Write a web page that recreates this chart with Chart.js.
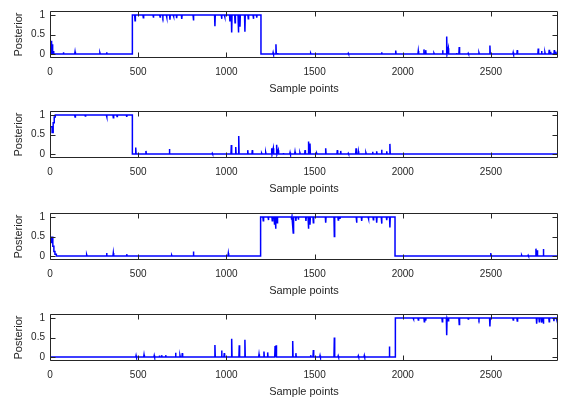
<!DOCTYPE html>
<html>
<head>
<meta charset="utf-8">
<script src="https://cdn.jsdelivr.net/npm/chart.js@4"></script>
<style>
  html, body { margin: 0; padding: 0; background: #fff; overflow: hidden; }
  body { width: 563px; height: 401px; position: relative; }
  .panel { position: absolute; left: 0; width: 563px; height: 100px; }
</style>
</head>
<body>
<div class="panel" style="top:0px"><canvas id="c1"></canvas></div>
<div class="panel" style="top:100px"><canvas id="c2"></canvas></div>
<div class="panel" style="top:202px"><canvas id="c3"></canvas></div>
<div class="panel" style="top:303px"><canvas id="c4"></canvas></div>
<script>
// ---- data ----
const X_MAX = 2880;
const xTickValues = [0, 500, 1000, 1500, 2000, 2500];
const yTickValues = [0, 0.5, 1];
const xTitle = 'Sample points';
const yTitle = 'Posterior';

// level changes: [x, level from x onward]
const p1Steps = [[0, 0], [467, 1], [1196, 0]];
const p1Spikes = [[8,0.34],[14,0.25],[20,0.08],[76,0.05],[142,0.06],[283,0.03],[321,0.05],
  [482,0.85],[529,0.93],[586,0.93],[624,0.95],[640,0.96],[661,0.94],[680,0.88],[700,0.96],[718,0.92],[747,0.9],[813,0.86],[935,0.71],[973,0.9],[990,0.95],[1020,0.83],[1030,0.55],[1049,0.8],[1068,0.55],[1077,0.7],[1105,0.57],[1124,0.9],[1153,0.9],[1172,0.93],
  [1265,0.04],[1281,0.25],[1290,0.03],[1313,0.02],[1478,0.02],[1691,0.02],[1795,0.02],[1880,0.05],[1960,0.09],[2088,0.08],[2120,0.12],[2130,0.1],[2177,0.02],[2226,0.1],[2249,0.45],[2258,0.15],[2305,0.03],[2320,0.18],[2371,0.02],[2432,0.03],[2494,0.22],[2626,0.04],[2649,0.1],[2768,0.14],[2787,0.08],[2806,0.04],[2830,0.11],[2838,0.06],[2859,0.1],[2868,0.06]];

const p2Steps = [[0, 0.7], [12, 0.55], [18, 0.8], [24, 0.95], [30, 1], [467, 0]];
const p2Spikes = [[142,0.95],[200,0.97],[321,0.95],[359,0.93],[380,0.96],[435,0.95],
  [486,0.17],[544,0.08],[677,0.13],[920,0.02],[1028,0.23],[1053,0.18],[1070,0.46],[1121,0.1],[1147,0.1],[1200,0.02],[1223,0.04],[1257,0.15],[1266,0.15],[1285,0.24],[1294,0.1],[1323,0.03],[1361,0.04],[1389,0.06],[1417,0.03],[1446,0.1],[1465,0.32],[1474,0.27],[1512,0.02],[1563,0.15],[1629,0.1],[1648,0.08],[1691,0.02],[1735,0.15],[1748,0.07],[1791,0.03],[1829,0.06],[1852,0.07],[1880,0.11],[1909,0.07],[1927,0.26]];

const p3Steps = [[0, 0.35], [8, 0.48], [16, 0.25], [22, 0.12], [28, 0.05], [36, 0], [1194, 1], [1956, 0]];
const p3Spikes = [[94,0.02],[208,0.03],[321,0.08],[359,0.08],[435,0.05],[690,0.02],[813,0.12],[1011,0.07],
  [1209,0.9],[1238,0.92],[1260,0.9],[1272,0.8],[1279,0.7],[1288,0.85],[1370,0.93],[1379,0.59],[1394,0.9],[1408,0.93],[1451,0.9],[1465,0.7],[1474,0.8],[1493,0.85],[1563,0.85],[1612,0.5],[1634,0.92],[1644,0.95],[1738,0.85],[1767,0.9],[1805,0.95],[1833,0.93],[1852,0.85],[1880,0.83],[1909,0.92],[1927,0.73],
  [2060,0.02],[2498,0.08],[2674,0.02],[2711,0.02],[2755,0.19],[2763,0.15],[2797,0.18]];

const p4Steps = [[0, 0], [1958, 1]];
const p4Spikes = [[488,0.04],[533,0.06],[591,0.04],[620,0.04],[633,0.05],[656,0.05],[712,0.11],[737,0.04],[750,0.1],[935,0.31],[973,0.17],[988,0.1],[1030,0.47],[1073,0.3],[1105,0.44],[1185,0.07],[1213,0.14],[1234,0.12],[1276,0.28],[1282,0.3],[1376,0.41],[1394,0.1],[1478,0.05],[1493,0.18],[1531,0.04],[1612,0.5],[1634,0.03],[1748,0.03],[1782,0.04],[1924,0.27],
  [2060,0.97],[2088,0.95],[2122,0.9],[2130,0.93],[2224,0.9],[2249,0.56],[2258,0.93],[2320,0.83],[2371,0.97],[2432,0.97],[2494,0.78],[2626,0.95],[2649,0.92],[2759,0.85],[2774,0.9],[2787,0.88],[2797,0.85],[2830,0.9],[2857,0.92],[2872,0.95]];

// ---- build line points from the level changes and spikes ----
function build(steps, spikes) {
  const levelAt = x => { let l = steps[0][1]; for (const [sx, sl] of steps) if (sx <= x) l = sl; return l; };
  const pts = [{x: 0, y: steps[0][1]}];
  const ev = [
    ...steps.slice(1).map(s => ({x: s[0], y: s[1], step: true})),
    ...spikes.map(s => ({x: s[0], y: s[1], step: false}))
  ].sort((a, b) => a.x - b.x);
  for (const e of ev) {
    if (e.step) {
      pts.push({x: e.x, y: levelAt(e.x - 0.001)});
      pts.push({x: e.x, y: e.y});
    } else {
      const b = levelAt(e.x);
      pts.push({x: e.x - 2, y: b}, {x: e.x, y: e.y}, {x: e.x + 2, y: b});
    }
  }
  pts.push({x: X_MAX, y: levelAt(X_MAX)});
  return pts;
}

const AXIS_COLOR = '#262626';
const FONT = '"Liberation Sans", Arial, Helvetica, sans-serif';

const boxTicks = {
  id: 'boxTicks',
  afterDraw(chart) {
    const {ctx, chartArea: a, scales} = chart;
    ctx.save();
    ctx.strokeStyle = AXIS_COLOR;
    ctx.lineWidth = 1;
    ctx.beginPath();
    const L = Math.round(a.left) + 0.5, R = Math.round(a.right) - 0.5;
    const T = Math.round(a.top) + 0.5, B = Math.round(a.bottom) - 0.5;
    ctx.rect(L, T, R - L, B - T);
    const tl = 5;
    scales.x.ticks.forEach(t => {
      const px = Math.round(scales.x.getPixelForValue(t.value)) + 0.5;
      ctx.moveTo(px, B); ctx.lineTo(px, B - tl);
      ctx.moveTo(px, T); ctx.lineTo(px, T + tl);
    });
    scales.y.ticks.forEach(t => {
      const py = Math.round(scales.y.getPixelForValue(t.value)) + 0.5;
      ctx.moveTo(L, py); ctx.lineTo(L + tl, py);
      ctx.moveTo(R, py); ctx.lineTo(R - tl, py);
    });
    ctx.stroke();
    ctx.restore();
  }
};

function makeChart(id, steps, spikes) {
  return new Chart(document.getElementById(id), {
    type: 'scatter',
    data: {
      datasets: [{
        data: build(steps, spikes),
        showLine: true,
        borderColor: '#0000ff',
        backgroundColor: '#0000ff',
        borderWidth: 1.5,
        pointRadius: 0,
        tension: 0,
        fill: false
      }]
    },
    options: {
      responsive: true,
      maintainAspectRatio: false,
      animation: false,
      events: [],
      layout: { padding: { top: 4, right: 5, left: 0, bottom: 0 } },
      plugins: { legend: { display: false }, tooltip: { enabled: false } },
      scales: {
        x: {
          type: 'linear', min: 0, max: X_MAX,
          grid: { display: false, drawTicks: false },
          border: { display: false },
          afterBuildTicks: s => { s.ticks = xTickValues.map(v => ({value: v})); },
          afterFit: s => { s.height = 42; },
          ticks: { color: AXIS_COLOR, font: { family: FONT, size: 10 }, padding: 8, maxRotation: 0,
                   callback: v => String(v) },
          title: { display: true, text: xTitle, color: AXIS_COLOR,
                   font: { family: FONT, size: 11 }, padding: { top: 0, bottom: 4 } }
        },
        y: {
          type: 'linear', min: -0.1, max: 1.1,
          grid: { display: false, drawTicks: false },
          border: { display: false },
          afterBuildTicks: s => { s.ticks = yTickValues.map(v => ({value: v})); },
          afterFit: s => { s.width = 50; },
          ticks: { color: AXIS_COLOR, font: { family: FONT, size: 10 }, padding: 5,
                   callback: v => String(v) },
          title: { display: true, text: yTitle, color: AXIS_COLOR,
                   font: { family: FONT, size: 11 }, padding: { top: 12, bottom: 0 } }
        }
      }
    },
    plugins: [boxTicks]
  });
}

makeChart('c1', p1Steps, p1Spikes);
makeChart('c2', p2Steps, p2Spikes);
makeChart('c3', p3Steps, p3Spikes);
makeChart('c4', p4Steps, p4Spikes);
</script>
</body>
</html>
